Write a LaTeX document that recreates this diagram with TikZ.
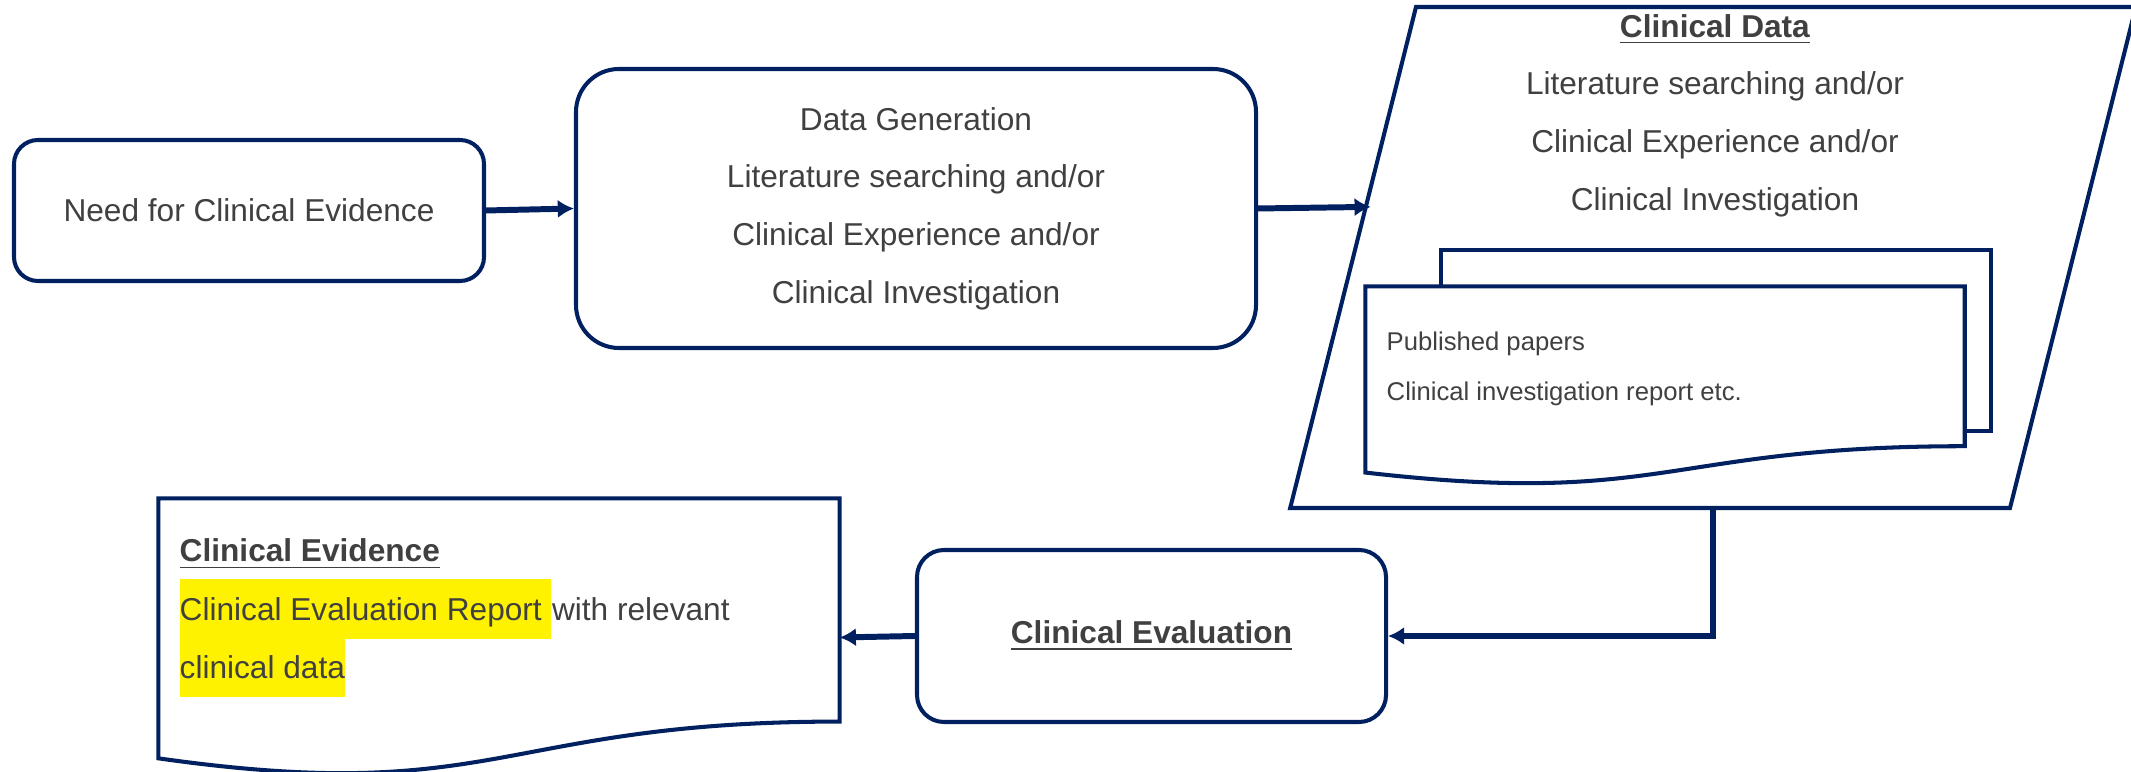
\documentclass[tikz,border=0pt]{standalone}
\usepackage{fontspec}
\setmainfont{Liberation Sans}
\usetikzlibrary{shapes.geometric,arrows.meta,calc}

\definecolor{navy}{HTML}{002060}
\definecolor{ink}{HTML}{404040}

\newcommand\paperoutline[1]{%
    \draw[edge, fill=white] (#1.north west) -- (#1.north east)
        -- ($(#1.north east)!0.802!(#1.south east)$)
        .. controls ($(#1.north)!0.802!(#1.south)$) and ($(#1.north)!1.1075!(#1.south)$)
        .. ($(#1.north west)!0.934!(#1.south west)$) -- cycle;}

\begin{document}
\begin{tikzpicture}[
        txt/.style={text=ink, font=\fontsize{9}{16.4}\selectfont},
        box/.style={txt, draw=navy, line width=1.15pt, align=center},
        edge/.style={draw=navy, line width=1.15pt},
        link/.style={draw=navy, line width=1.7pt, -{Latex[length=4.6pt,width=5.2pt]}},
        hl/.style={txt, fill=yellow, inner sep=0pt, text height=0.42cm, text depth=0.18cm, anchor=base west}
    ]
    \useasboundingbox (0,0) rectangle (21.31,-7.72);
    \node[box, rounded corners=0.24cm, minimum width=4.7cm, minimum height=1.41cm] (need) at (2.49,-2.105) {Need for Clinical Evidence};
    \node[box, rounded corners=0.43cm, minimum width=6.8cm, minimum height=2.79cm] (gen) at (9.16,-2.085)
        {Data Generation\\Literature searching and/or\\Clinical Experience and/or\\Clinical Investigation};
    \node[edge, trapezium, trapezium left angle=75.9, trapezium right angle=104.1,
        inner xsep=2.97cm, inner ysep=2.505cm] (data) at (17.13,-2.575) {};
    \node[txt, align=center] (datatxt) at (17.15,-1.155)
        {\underline{\textbf{Clinical Data}}\\Literature searching and/or\\Clinical Experience and/or\\Clinical Investigation};
    \node[edge, fill=white, minimum width=5.5cm, minimum height=1.81cm] (paperback) at (17.16,-3.405) {};
    \node[minimum width=5.98cm, minimum height=1.98cm] (paper) at (16.65,-3.86) {};
    \paperoutline{paper}
    \node[txt, font=\fontsize{7.3}{14.3}\selectfont, align=left, anchor=west, inner sep=0pt] (papertxt) at (13.86,-3.69)
        {Published papers\\Clinical investigation report etc.};
    \node[box, rounded corners=0.27cm, minimum width=4.69cm, minimum height=1.72cm] (eval) at (11.515,-6.36)
        {\underline{\textbf{Clinical Evaluation}}};
    \node[minimum width=6.8cm, minimum height=2.77cm] (evid) at (4.99,-6.375) {};
    \paperoutline{evid}
    \node[txt, anchor=base west, inner sep=0pt] (evidtitle) at (1.79,-5.62) {\underline{\textbf{Clinical Evidence}}};
    \node[hl] (report) at (1.79,-6.21) {Clinical Evaluation Report\ \null};
    \node[txt, anchor=base west, inner sep=0pt] (relevant) at (report.base east) {with relevant};
    \node[hl] (cdata) at (1.79,-6.79) {clinical data};
    \foreach \a/\b in {need.east/gen.west, eval.west/evid.east} {
        \draw[link] (\a) -- (\b);
    }
    \draw[link, shorten >=-2pt] (gen.east) -- ($(data.bottom left corner)!0.6!(data.top left corner)$);
    \draw[link] (data.south) |- (eval.east);
\end{tikzpicture}
\end{document}
